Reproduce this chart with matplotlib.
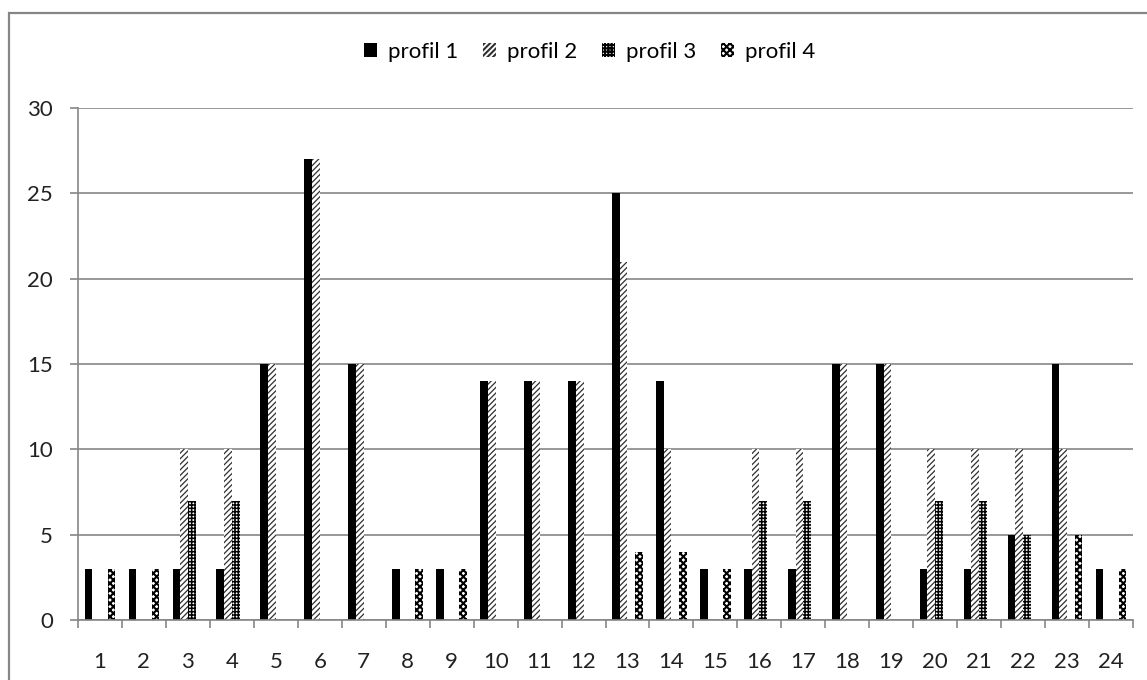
import numpy as np
import matplotlib.pyplot as plt
from matplotlib.patches import Rectangle

plt.rcParams['font.family'] = ['Lato', 'DejaVu Sans']
plt.rcParams['hatch.color'] = 'black'

categories = [str(i) for i in range(1, 25)]
profil1 = [3, 3, 3, 3, 15, 27, 15, 3, 3, 14, 14, 14, 25, 14, 3, 3, 3, 15, 15, 3, 3, 5, 15, 3]
profil2 = [0, 0, 10, 10, 15, 27, 15, 0, 0, 14, 14, 14, 21, 10, 0, 10, 10, 15, 15, 10, 10, 10, 10, 0]
profil3 = [0, 0, 7, 7, 0, 0, 0, 0, 0, 0, 0, 0, 0, 0, 0, 7, 7, 0, 0, 7, 7, 5, 0, 0]
profil4 = [3, 3, 0, 0, 0, 0, 0, 3, 3, 0, 0, 0, 4, 4, 3, 0, 0, 0, 0, 0, 0, 0, 5, 3]
series_names = ['profil 1', 'profil 2', 'profil 3', 'profil 4']

grey = '#868686'
fig = plt.figure(figsize=(11.47, 6.80), dpi=100)
ax = fig.add_axes([0.068, 0.088, 0.9198, 0.753])

x = np.arange(1, len(categories) + 1)
w = 0.175
styles = [
    dict(color='black', edgecolor='black'),
    dict(color='white', edgecolor='#303030', hatch='//////'),
    dict(color='white', edgecolor='black', hatch='+++++'),
    dict(color='white', edgecolor='black', hatch='xxxxx'),
]
hatch_lw = [1.0, 0.9, 1.1, 1.5]
data = [profil1, profil2, profil3, profil4]
for i, (vals, st) in enumerate(zip(data, styles)):
    plt.rcParams['hatch.linewidth'] = hatch_lw[i]
    ax.bar(x + (i - 1.5) * w, vals, w, label=series_names[i], linewidth=0, **st)

ax.set_xlim(0.5, 24.5)
ax.set_ylim(0, 30)
ax.set_yticks(range(0, 31, 5))
ax.set_xticks(x)
ax.set_xticklabels(categories)
ax.set_xticks(np.arange(0.5, 25, 1), minor=True)
ax.tick_params(axis='x', which='major', length=0, pad=23, labelsize=16, labelcolor='#222222')
ax.tick_params(axis='x', which='minor', length=6, color=grey, width=1.2)
ax.tick_params(axis='y', length=6, color=grey, width=1.2, pad=12, labelsize=16, labelcolor='#222222')
ax.grid(axis='y', color=grey, linewidth=1.2)
ax.set_axisbelow(True)
for s in ['top', 'right']:
    ax.spines[s].set_visible(False)
for s in ['left', 'bottom']:
    ax.spines[s].set_color(grey)
    ax.spines[s].set_linewidth(1.2)

ax.legend(loc='center', bbox_to_anchor=(0.485, 1.11), ncol=4, frameon=False,
          fontsize=16, handlelength=0.6, handleheight=0.6, handletextpad=0.5,
          columnspacing=1.1)

# outer chart frame
fig.patches.append(Rectangle((9 / 1147, -0.05), 1.1, 0.05 + 1 - 13 / 680,
                             transform=fig.transFigure, fill=False,
                             edgecolor=grey, linewidth=1.6))

fig.savefig('out.png', dpi=100)
